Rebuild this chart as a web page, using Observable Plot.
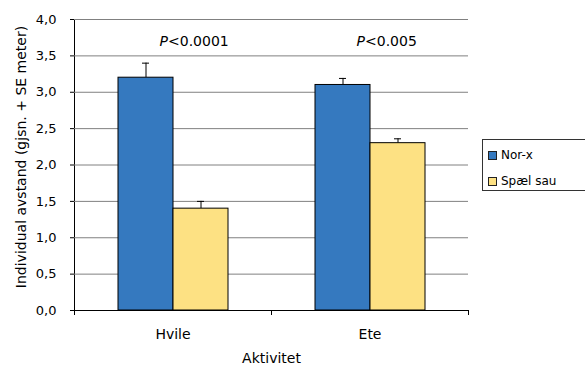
<!DOCTYPE html>
<html>
<head>
<meta charset="utf-8">
<script src="https://cdn.jsdelivr.net/npm/d3@7"></script>
<script src="https://cdn.jsdelivr.net/npm/@observablehq/plot@0.6"></script>
<style>
  html, body { margin: 0; padding: 0; background: #fff; }
  #wrap { position: relative; width: 585px; height: 367px; font-family: "DejaVu Sans", sans-serif; }
  #wrap svg [aria-label="y-axis tick label"] text { font-size: 13px; }
  #wrap svg [aria-label="y-axis label"] text { font-size: 14px; }
  #legend { position: absolute; left: 482px; top: 139px; width: 120px; height: 52px;
            border: 1px solid #333; box-sizing: border-box; font-size: 12px; color: #000; }
  .item { position: absolute; left: 5px; display: flex; align-items: center; line-height: 14px; }
  .sw { width: 7px; height: 7px; border: 1px solid #222; margin-right: 4px; }
</style>
</head>
<body>
<div id="wrap"></div>
<script>
const activities = ["Hvile", "Ete"];
const breeds = ["Nor-x", "Spæl sau"];
const meanNorX = [3.2, 3.1];
const seNorX = [0.2, 0.09];
const meanSpael = [1.4, 2.3];
const seSpael = [0.1, 0.06];
const pLabels = ["<0.0001", "<0.005"];
const yTicks = [0, 0.5, 1, 1.5, 2, 2.5, 3, 3.5, 4];
const colors = ["#3579BF", "#FDE183"];

const data = activities.flatMap((a, i) => [
  {activity: a, breed: breeds[0], mean: meanNorX[i], se: seNorX[i]},
  {activity: a, breed: breeds[1], mean: meanSpael[i], se: seSpael[i]}
]);
const pData = activities.map((a, i) => ({activity: a, p: pLabels[i]}));

const chart = Plot.plot({
  width: 585,
  height: 367,
  marginLeft: 74,
  marginRight: 117,
  marginTop: 19,
  marginBottom: 57,
  style: {fontFamily: "DejaVu Sans", fontSize: "14px", background: "#fff", color: "#000"},
  fx: {domain: activities, padding: 0, axis: "bottom", label: "Aktivitet", labelAnchor: "center",
       labelOffset: 52, tickSize: 0, tickPadding: 19},
  x: {domain: breeds, paddingInner: 0, paddingOuter: 0.76, axis: null},
  y: {domain: [0, 4], ticks: yTicks, tickFormat: d => d.toFixed(1).replace(".", ","),
      tickSize: 4, tickPadding: 14, line: true,
      label: "Individual avstand (gjsn. + SE meter)", labelAnchor: "center", labelOffset: 58, labelArrow: "none"},
  color: {domain: breeds, range: colors},
  marks: [
    Plot.ruleY(yTicks.slice(1), {stroke: "#808080", strokeWidth: 1}),
    Plot.ruleX(data, {fx: "activity", x: "breed", y1: "mean", y2: d => d.mean + d.se, stroke: "#000"}),
    Plot.tickY(data, {fx: "activity", x: "breed", y: d => d.mean + d.se, insetLeft: 24, insetRight: 24, stroke: "#000"}),
    Plot.barY(data, {fx: "activity", x: "breed", y: "mean", fill: "breed", stroke: "#000", strokeWidth: 1}),
    Plot.ruleY([0], {stroke: "#000"}),
    Plot.text(pData, {fx: "activity", y: 3.7, text: () => "P", fontStyle: "italic", textAnchor: "end", dx: -5, fontSize: 14}),
    Plot.text(pData, {fx: "activity", y: 3.7, text: "p", textAnchor: "start", dx: -5, fontSize: 14})
  ]
});

// category boundary ticks on the bottom axis, from the fx band scale
const fxs = chart.scale("fx");
const ys = chart.scale("y");
const n = fxs.domain.length;
const r0 = fxs.range[0], r1 = fxs.range[1];
const y0 = ys.range[0];
const bounds = d3.range(n + 1).map(i => r0 + i * (r1 - r0) / n);
d3.select(chart).append("g").attr("stroke", "#000")
  .selectAll("line").data(bounds).join("line")
  .attr("x1", d => Math.round(d) + 0.5).attr("x2", d => Math.round(d) + 0.5)
  .attr("y1", y0).attr("y2", y0 + 5);

// nudge the y-axis title slightly upward, as in the reference
d3.select(chart).selectAll('[aria-label="y-axis label"] text').attr("dx", 8);

const wrap = document.getElementById("wrap");
wrap.appendChild(chart);

const legend = document.createElement("div");
legend.id = "legend";
breeds.forEach((b, i) => {
  const it = document.createElement("div");
  it.className = "item";
  it.style.top = (8 + i * 26) + "px";
  const sw = document.createElement("span");
  sw.className = "sw";
  sw.style.background = colors[i];
  const t = document.createElement("span");
  t.textContent = b;
  it.appendChild(sw); it.appendChild(t);
  legend.appendChild(it);
});
wrap.appendChild(legend);
</script>
</body>
</html>
